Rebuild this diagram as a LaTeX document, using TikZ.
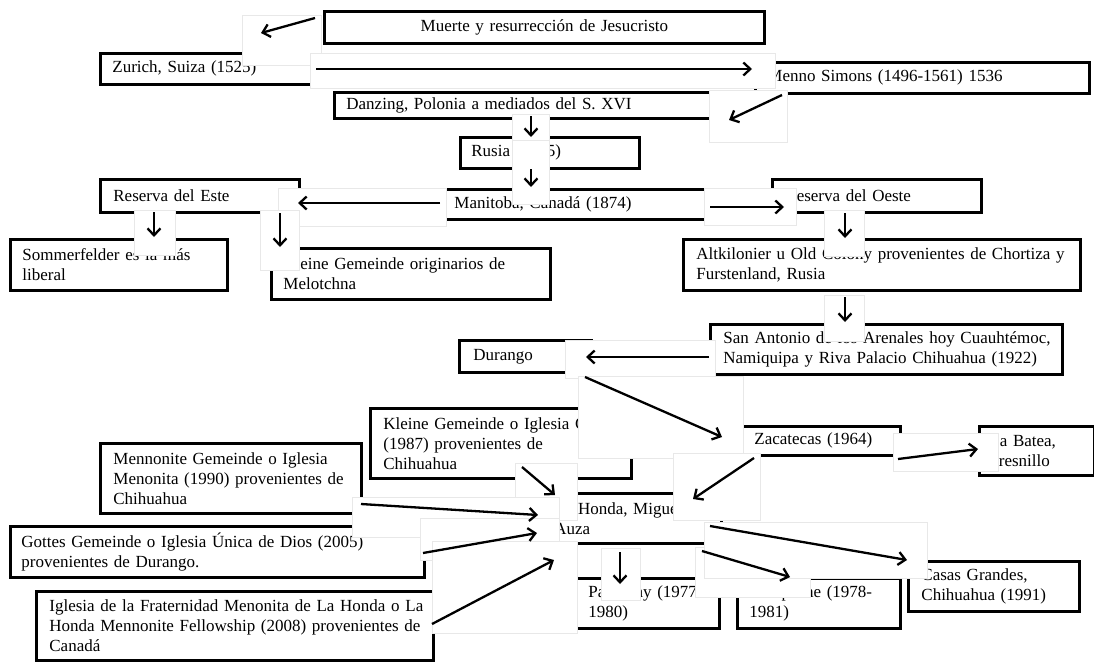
\documentclass[tikz,border=0pt]{standalone}
\usepackage{fontspec}
\setmainfont{Liberation Serif}
\usetikzlibrary{arrows.meta}
\tikzset{
  caja/.style={draw=black, line width=2.8pt, fill=white, anchor=north west, align=left, inner ysep=0pt, font=\fontsize{17}{19.8}\selectfont},
  cubre/.style={draw=black!9, line width=0.6pt, fill=white, anchor=north west, inner sep=0pt},
  flecha/.style={line width=2.3pt, -{Straight Barb[length=7pt,width=13pt]}},
}
\newcommand\Caja[7]{%
  \pgfmathsetmacro\cajaW{#4-#2}\pgfmathsetmacro\cajaH{#5-#3}\pgfmathsetmacro\cajaT{#4-#2-2*#6}%
  \node[caja, minimum width=\cajaW pt, minimum height=\cajaH pt, inner xsep=#6pt, text width=\cajaT pt] (#1) at (#2,#3) {#7};}
\newcommand\Cubre[5]{%
  \pgfmathsetmacro\cubreW{#4-#2}\pgfmathsetmacro\cubreH{#5-#3}%
  \node[cubre, minimum width=\cubreW pt, minimum height=\cubreH pt] (#1) at (#2,#3) {};}
\begin{document}
\begin{tikzpicture}[x=1pt,y=-1pt]
\useasboundingbox (0,0) rectangle (1094,662);
% boxes
\node[caja, align=center, minimum width=440pt, minimum height=32pt, text width=420pt, inner xsep=10pt] (muerte) at (323,10) {Muerte y resurrección de Jesucristo};
\Caja{zurich}{99}{52}{316}{83}{12}{\mbox{Zurich, Suiza (1525)}}
\Caja{menno}{754}{61}{1088}{92}{12}{\mbox{Menno Simons (1496-1561) 1536}}
\Caja{danzing}{333}{91}{740}{117}{12}{\mbox{Danzing, Polonia a mediados del S. XVI}}
\Caja{rusia}{459}{136}{638}{167}{11}{\mbox{Rusia (1765)}}
\Caja{este}{99}{178}{298}{211}{13}{\mbox{Reserva del Este}}
\Caja{manitoba}{440}{188}{715}{218}{13}{\mbox{Manitoba, Canadá (1874)}}
\Caja{oeste}{771}{178}{980}{211}{13}{\mbox{Reserva del Oeste}}
\Caja{sommer}{9}{238}{226}{289}{12}{\mbox{Sommerfelder es la más}\\\mbox{liberal}}
\Caja{kleineA}{270}{247}{549}{298}{12}{\mbox{Kleine Gemeinde originarios de}\\\mbox{Melotchna}}
\Caja{altk}{682}{238}{1079}{289}{13}{\mbox{Altkilonier u Old Colony provenientes de Chortiza y}\\\mbox{Furstenland, Rusia}}
\Caja{sanant}{709}{323}{1061}{373}{13}{\mbox{San Antonio de los Arenales hoy Cuauhtémoc,}\\\mbox{Namiquipa y Riva Palacio Chihuahua (1922)}}
\Caja{durango}{458}{339}{590}{371}{14}{\mbox{Durango}}
\Caja{kleineB}{369}{407}{630}{477}{13}{\mbox{Kleine Gemeinde o Iglesia CME}\\\mbox{(1987) provenientes de}\\\mbox{Chihuahua}}
\Caja{zac}{740}{425}{899}{454}{13}{\mbox{Zacatecas (1964)}}
\Caja{batea}{978}{425}{1093}{474}{10}{\mbox{La Batea,}\\\mbox{Fresnillo}}
\Caja{mennonite}{99}{442}{360}{512}{13}{\mbox{Mennonite Gemeinde o Iglesia}\\\mbox{Menonita (1990) provenientes de}\\\mbox{Chihuahua}}
\Caja{lahonda}{541}{492}{720}{542}{12}{\mbox{La Honda, Miguel}\\\mbox{Auza}}
\Caja{gottes}{9}{525}{423}{576}{11}{\mbox{Gottes Gemeinde o Iglesia Única de Dios (2005)}\\\mbox{provenientes de Durango.}}
\Caja{frat}{35}{590}{432}{659}{13}{\mbox{Iglesia de la Fraternidad Menonita de La Honda o La}\\\mbox{Honda Mennonite Fellowship (2008) provenientes de}\\\mbox{Canadá}}
\Caja{paraguay}{575}{577}{718}{627}{12}{\mbox{Paraguay (1977-}\\\mbox{1980)}}
\Caja{campeche}{736}{577}{899}{627}{12}{\mbox{Campeche (1978-}\\\mbox{1981)}}
\Caja{casas}{907}{560}{1078}{610}{13}{\mbox{Casas Grandes,}\\\mbox{Chihuahua (1991)}}
% covering rectangles behind the arrows
\Cubre{r1}{242}{15}{321}{65}
\Cubre{r2}{310}{53}{775}{88}
\Cubre{r3}{709}{90}{787}{142}
\Cubre{r4}{512}{114}{549}{140}
\Cubre{r5}{512}{140}{549}{204}
\Cubre{r6}{278}{188}{446}{226}
\Cubre{r7}{134}{210}{175}{255}
\Cubre{r8}{260}{210}{299}{270}
\Cubre{r9}{704}{188}{796}{225}
\Cubre{r10}{824}{210}{864}{256}
\Cubre{r11}{824}{295}{864}{341}
\Cubre{r12}{565}{340}{715}{378}
\Cubre{r13}{578}{376}{743}{458}
\Cubre{r14}{893}{433}{998}{471}
\Cubre{r15}{673}{453}{760}{520}
\Cubre{r16}{515}{463}{577}{520}
\Cubre{r17}{352}{497}{559}{537}
\Cubre{r18}{420}{518}{559}{560}
\Cubre{r19}{432}{541}{577}{633}
\Cubre{r20}{601}{548}{640}{600}
\Cubre{r21}{695}{547}{810}{597}
\Cubre{r22}{704}{522}{927}{578}
% arrow end points
\coordinate (p1a) at (315,18);  \coordinate (p1b) at (261,33);
\coordinate (p2a) at (316,69);  \coordinate (p2b) at (752,69);
\coordinate (p3a) at (782,95);  \coordinate (p3b) at (729,120);
\coordinate (p4a) at (531,116); \coordinate (p4b) at (531,137);
\coordinate (p5a) at (531,169); \coordinate (p5b) at (531,187);
\coordinate (p6a) at (440,203); \coordinate (p6b) at (298,203);
\coordinate (p7a) at (154,212); \coordinate (p7b) at (154,237);
\coordinate (p8a) at (280,213); \coordinate (p8b) at (280,247);
\coordinate (p9a) at (710,207); \coordinate (p9b) at (784,207);
\coordinate (p10a) at (845,213); \coordinate (p10b) at (845,238);
\coordinate (p11a) at (845,297); \coordinate (p11b) at (845,322);
\coordinate (p12a) at (709,357); \coordinate (p12b) at (586,357);
\coordinate (p13a) at (585,377); \coordinate (p13b) at (722,437);
\coordinate (p14a) at (898,459); \coordinate (p14b) at (978,449);
\coordinate (p15a) at (754,458); \coordinate (p15b) at (693,499);
\coordinate (p16a) at (522,467); \coordinate (p16b) at (555,495);
\coordinate (p17a) at (361,504); \coordinate (p17b) at (538,515);
\coordinate (p18a) at (423,553); \coordinate (p18b) at (537,533);
\coordinate (p19a) at (432,624); \coordinate (p19b) at (554,560);
\coordinate (p20a) at (620,552); \coordinate (p20b) at (620,584);
\coordinate (p21a) at (702,551); \coordinate (p21b) at (790,577);
\coordinate (p22a) at (710,526); \coordinate (p22b) at (907,560);
% arrows
\foreach \i in {1,...,22} {\draw[flecha] (p\i a) -- (p\i b);}
\end{tikzpicture}
\end{document}
